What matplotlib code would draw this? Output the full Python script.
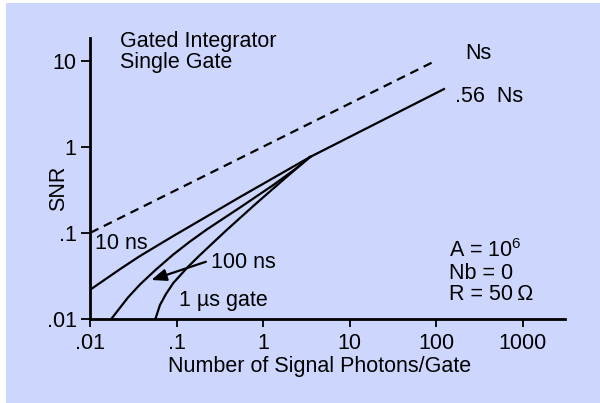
"""Gated integrator SNR vs signal photons per gate (log-log)."""

import matplotlib

matplotlib.use("Agg")
import matplotlib.pyplot as plt
from matplotlib.patches import Rectangle

FS = 15.5
plt.rcParams["font.family"] = ["Liberation Sans", "DejaVu Sans"]
plt.rcParams["mathtext.fontset"] = "custom"
plt.rcParams["mathtext.rm"] = "Liberation Sans"
plt.rcParams["font.size"] = FS

BG = "#cdd7fd"

# ideal shot-noise limit (dashed "Ns")
ns_x = [0.01, 92]
ns_y = [0.1, 9.66]

# common high-signal trunk (".56 Ns")
trunk_x = [3.471, 123.4]
trunk_y = [0.759, 4.69]

# gate-width curves
g10_x = [0.01, 0.02254, 0.0374, 0.09084, 0.2213, 0.5374, 1.305, 3.471]
g10_y = [0.02185, 0.03835, 0.05358, 0.09154, 0.1543, 0.2601, 0.4325, 0.759]

g100_x = [0.0175, 0.02716, 0.0374, 0.0573, 0.09084, 0.1418, 0.2213,
          0.5374, 1.305, 2.436, 3.471]
g100_y = [0.01, 0.01764, 0.02498, 0.03733, 0.05578, 0.07899, 0.1089,
          0.1963, 0.3587, 0.5652, 0.759]

g1us_x = [0.05654, 0.06374, 0.07477, 0.09084, 0.1355, 0.1851, 0.2638,
          0.3771, 0.5374, 0.8386, 1.305, 2.037, 3.471]
g1us_y = [0.01, 0.01443, 0.01937, 0.02601, 0.04046, 0.05503, 0.07691,
          0.1075, 0.1483, 0.2215, 0.3266, 0.4816, 0.759]

x_ticks = [0.01, 0.1, 1, 10, 100, 1000]
x_ticklabels = [".01", ".1", "1", "10", "100", "1000"]
y_ticks = [0.01, 0.1, 1, 10]
y_ticklabels = [".01", ".1", "1", "10"]

fig = plt.figure(figsize=(6, 4.03), dpi=100)
fig.patch.set_facecolor("white")
fig.patches.append(Rectangle((6 / 600, 0), 1, 400 / 403, transform=fig.transFigure,
                             facecolor=BG, edgecolor="none", zorder=-10))

ax = fig.add_axes([0.1508, 0.2092, 0.7909, 0.6965])
ax.set_facecolor("none")
ax.set_xscale("log")
ax.set_yscale("log")
ax.set_xlim(0.01, 3105)
ax.set_ylim(0.01, 18.4)

lw = 1.6
ax.plot(ns_x, ns_y, color="black", lw=lw, linestyle=(0, (4, 2.7)))
ax.plot(trunk_x, trunk_y, color="black", lw=lw)
for xs, ys in [(g10_x, g10_y), (g100_x, g100_y), (g1us_x, g1us_y)]:
    ax.plot(xs, ys, color="black", lw=lw, solid_joinstyle="round")

# spines / ticks
for side in ["top", "right"]:
    ax.spines[side].set_visible(False)
for side in ["left", "bottom"]:
    ax.spines[side].set_linewidth(2)
ax.set_xticks(x_ticks)
ax.set_xticklabels(x_ticklabels)
ax.set_yticks(y_ticks)
ax.set_yticklabels(y_ticklabels)
ax.minorticks_off()
ax.tick_params(axis="x", length=6, width=1.3, pad=4, labelsize=FS)
ax.tick_params(axis="y", length=6.5, width=1.3, pad=3.4, labelsize=FS)
ax.yaxis.get_major_ticks()[0].tick1line.set_color("#777777")
ax.xaxis.get_major_ticks()[4].tick1line.set_color("#777777")

ax.set_xlabel("Number of Signal Photons/Gate", fontsize=FS)
ax.xaxis.set_label_coords(0.4837, -0.134)
ax.set_ylabel("SNR", fontsize=FS)
ax.yaxis.set_label_coords(-0.0445, 0.4656)

# annotations
txt = dict(fontsize=FS, va="baseline", ha="left")
ax.text(0.0219, 14.6, "Gated Integrator", **txt)
ax.text(0.0219, 8.16, "Single Gate", **txt)
ax.text(216, 10.4, "Ns", **txt)
ax.text(165.5, 3.33, ".56  Ns", **txt)
ax.text(0.0113, 0.064, "10 ns", **txt)
ax.text(0.248, 0.0386, "100 ns", **txt)
ax.text(0.1066, 0.0141, "1 \u00b5s gate", **txt)
ax.text(142, 0.0526, "A = 10$^{6}$", **txt)
ax.text(142, 0.029, "Nb = 0", **txt)
ax.text(142, 0.0165, "R = 50\u2009\u03a9", **txt)

ax.annotate("", xy=(0.0506, 0.0282), xytext=(0.217, 0.046),
            arrowprops=dict(arrowstyle="-|>,head_length=0.5,head_width=0.2",
                            color="black", lw=1.6, mutation_scale=18,
                            shrinkA=0, shrinkB=0))

fig.savefig("out.png", dpi=100)
